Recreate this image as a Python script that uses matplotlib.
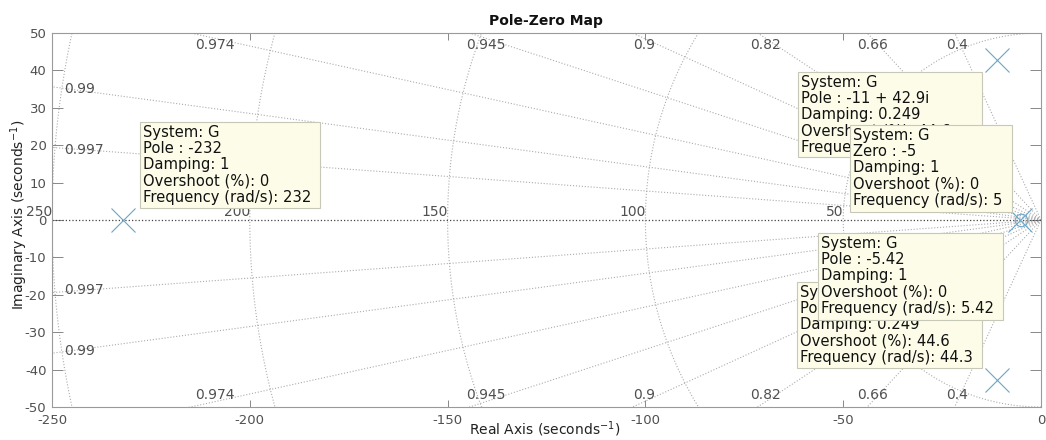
import numpy as np
import matplotlib
matplotlib.use("Agg")
import matplotlib.pyplot as plt
from matplotlib.patches import Rectangle

# ---- data ----
pole_re = [-232, -11, -11, -5.42]
pole_im = [0, 42.9, -42.9, 0]
zero_re = [-5]
zero_im = [0]
damping = [0.4, 0.66, 0.82, 0.9, 0.945, 0.974, 0.99, 0.997]
damping_labels = ["0.4", "0.66", "0.82", "0.9", "0.945", "0.974", "0.99", "0.997"]
freqs = [50, 100, 150, 200, 250]
freq_labels = ["50", "100", "150", "200", "250"]
xticks = [-250, -200, -150, -100, -50, 0]
yticks = [-50, -40, -30, -20, -10, 0, 10, 20, 30, 40, 50]
tips = [
    ["System: G", "Pole : -232", "Damping: 1", "Overshoot (%): 0", "Frequency (rad/s): 232"],
    ["System: G", "Pole : -11 + 42.9i", "Damping: 0.249", "Overshoot (%): 44.6", "Frequency (rad/s): 44.3"],
    ["System: G", "Zero : -5", "Damping: 1", "Overshoot (%): 0", "Frequency (rad/s): 5"],
    ["System: G", "Pole : -11 - 42.9i", "Damping: 0.249", "Overshoot (%): 44.6", "Frequency (rad/s): 44.3"],
    ["System: G", "Pole : -5.42", "Damping: 1", "Overshoot (%): 0", "Frequency (rad/s): 5.42"],
]
# box layout in pixels: left, top, width, height
tip_boxes = [(140, 122, 180, 86), (798, 72, 184, 85), (850, 125, 162, 87),
             (797, 282, 185, 86), (818, 233, 185, 87)]

plt.rcParams['font.family'] = ['DejaVu Sans']
plt.rcParams['axes.unicode_minus'] = False

W, H = 1046, 440
fig = plt.figure(figsize=(W / 100, H / 100), dpi=100)
ax = fig.add_axes([52 / W, (H - 407) / H, 989 / W, 374 / H])

XMIN, XMAX, YMIN, YMAX = -250, 0, -50, 50
ax.set_xlim(XMIN, XMAX)
ax.set_ylim(YMIN, YMAX)

grid_col = '#acacac'
lab_col = '#505050'

# frequency circles (left half)
th = np.linspace(np.pi / 2, 3 * np.pi / 2, 400)
for r, lab in zip(freqs, freq_labels):
    ax.plot(r * np.cos(th), r * np.sin(th), ls=':', color=grid_col, lw=0.8, zorder=1)
    ax.text(-r, 0.4, lab, ha='right', va='bottom', fontsize=10, color=lab_col,
            clip_on=False, zorder=3)

# damping lines
for z, lab in zip(damping, damping_labels):
    s = np.sqrt(1 - z ** 2) / z
    xs = np.array([0, -400])
    for sg in (1, -1):
        ax.plot(xs, sg * s * (-xs), ls=':', color=grid_col, lw=0.8, zorder=1)
    if s * (-XMIN) > YMAX:  # exits top / bottom
        yl = 48.6
        xl = -yl / s
        ax.text(xl, yl, lab, ha='center', va='top', fontsize=10, color=lab_col, zorder=3)
        ax.text(xl, -yl, lab, ha='center', va='bottom', fontsize=10, color=lab_col, zorder=3)
    else:
        ye = s * (-XMIN) - 0.6
        ax.text(-247, ye, lab, ha='left', va='center', fontsize=10, color=lab_col, zorder=3)
        ax.text(-247, -ye, lab, ha='left', va='center', fontsize=10, color=lab_col, zorder=3)

# real axis
ax.axhline(0, ls=':', color='#444444', lw=0.9, zorder=2)

# poles and zeros
mcol = '#6aa6c8'
ax.plot(pole_re, pole_im, ls='none', marker='x', ms=17, mew=0.8, color=mcol, zorder=4)
ax.plot(zero_re, zero_im, ls='none', marker='o', ms=9, mew=0.8, mfc='none', color=mcol, zorder=4)

# axes styling
ax.set_xticks(xticks)
ax.set_yticks(yticks)
ax.set_xticklabels([str(v) for v in xticks])
ax.set_yticklabels([str(v) for v in yticks])
ax.tick_params(axis='x', direction='in', length=5, width=0.7, color='#888888',
               labelsize=9.5, labelcolor=lab_col, pad=5, top=True)
ax.tick_params(axis='y', direction='in', length=8, width=0.7, color='#888888',
               labelsize=9.5, labelcolor=lab_col, pad=4, right=True)
for sp in ax.spines.values():
    sp.set_color('#9a9a9a')
    sp.set_linewidth(0.8)

# titles
fig.text(546 / W, 1 - 21 / H, 'Pole-Zero Map', ha='center', va='center',
         fontsize=10, fontweight='bold', color='#111111')
fig.text(545 / W, 1 - 429 / H, 'Real Axis (seconds$^{-1}$)', ha='center', va='center',
         fontsize=10, color='#222222')
fig.text(19 / W, 1 - 215 / H, 'Imaginary Axis (seconds$^{-1}$)', ha='center', va='center',
         rotation=90, fontsize=10, color='#222222', zorder=5)

# data tips
def fx(px):
    return px / W

def fy(py):
    return 1 - py / H

for i, ((L, T, bw, bh), lines) in enumerate(zip(tip_boxes, tips)):
    z = 10 + 2 * i
    rect = Rectangle((fx(L), fy(T + bh)), bw / W, bh / H, transform=fig.transFigure,
                     facecolor='#fcfce8', edgecolor='#c8c8b8', lw=0.8, zorder=z)
    fig.add_artist(rect)
    for k, line in enumerate(lines):
        fig.text(fx(L + 3), fy(T + 15 + k * 16.2), line, ha='left', va='baseline',
                 fontsize=10.6, color='#111111', zorder=z + 1)

fig.savefig('out.png', dpi=100)
